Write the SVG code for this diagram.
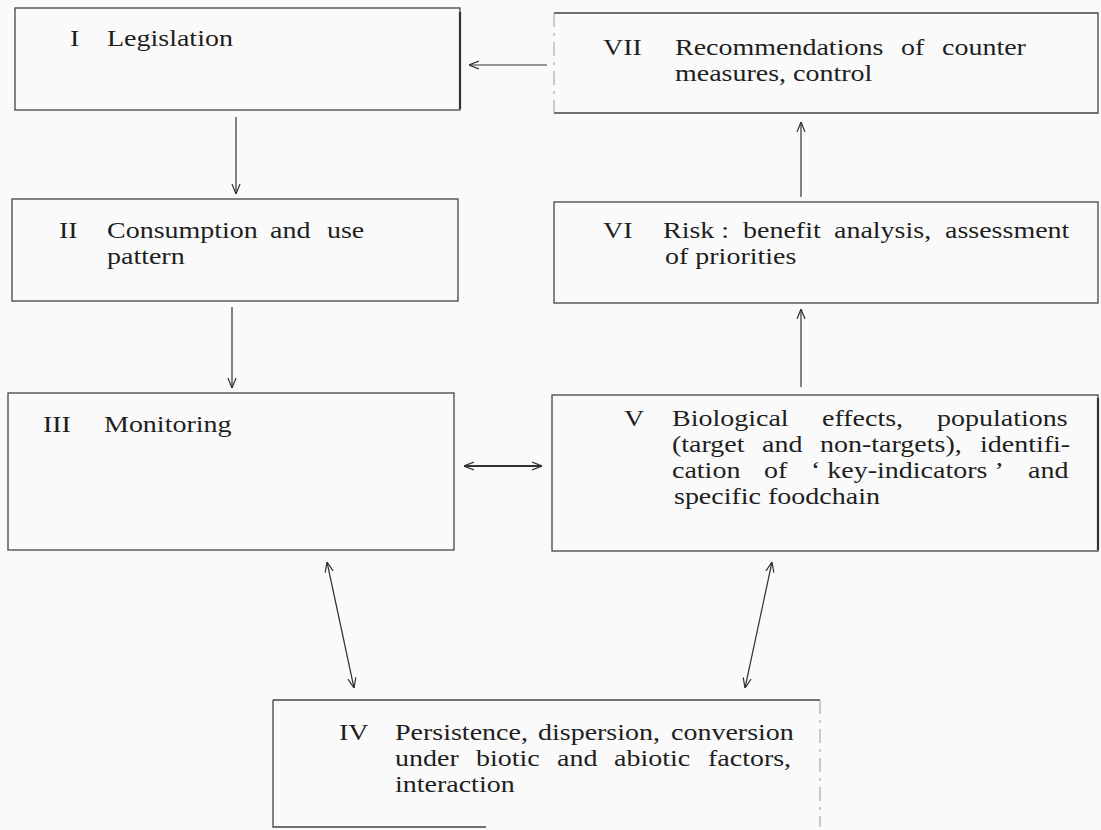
<svg xmlns="http://www.w3.org/2000/svg" width="1101" height="830" viewBox="0 0 1101 830">
<defs>
<style>
.box{fill:none;stroke:#444;stroke-width:1.3}
.faint{fill:none;stroke:#999;stroke-width:1;stroke-dasharray:14 6 3 6}
.thick{stroke:#333;stroke-width:2.2}
.lbl{font-family:"Liberation Serif","Times New Roman",serif;font-size:23px;fill:#1e1e1e}
.con{fill:none;stroke:#333;stroke-width:1.2}
.con2{fill:none;stroke:#333;stroke-width:2}
</style>
<marker id="ah" viewBox="0 0 10 10" refX="10" refY="5" markerWidth="10" markerHeight="10" markerUnits="userSpaceOnUse" orient="auto-start-reverse">
<path d="M0,1 L10,5 L0,9" fill="none" stroke="#333" stroke-width="1.2"/>
</marker>
</defs>
<rect x="0" y="0" width="1101" height="830" fill="#fafafa"/>

<g id="node-I">
<rect class="box" x="15" y="8" width="445" height="102"/>
<line class="thick" x1="460" y1="12" x2="460" y2="109"/>
<text class="lbl" transform="matrix(1.2174 0 0 1 -15.22 0)"><tspan x="70" y="46">I</tspan><tspan x="100.39" y="46">Legislation</tspan></text>
</g>

<g id="node-VII">
<path class="box" d="M554,13 H1098 V113 H554"/>
<line class="faint" x1="554" y1="13" x2="554" y2="113"/>
<text class="lbl" transform="matrix(1.2174 0 0 1 -131.09 0)"><tspan x="603" y="55">VII</tspan><tspan x="662.14" y="55">Recommendations</tspan><tspan x="847.78" y="55">of</tspan><tspan x="881.46" y="55">counter</tspan><tspan x="662.14" y="81">measures, control</tspan></text>
</g>

<g id="node-II">
<rect class="box" x="12" y="199" width="446" height="102"/>
<text class="lbl" transform="matrix(1.2174 0 0 1 -12.83 0)"><tspan x="59" y="238">II</tspan><tspan x="98.43" y="238">Consumption</tspan><tspan x="232.32" y="238">and</tspan><tspan x="279.14" y="238">use</tspan><tspan x="98.43" y="264">pattern</tspan></text>
</g>

<g id="node-VI">
<rect class="box" x="554" y="202" width="544" height="101"/>
<text class="lbl" transform="matrix(1.2174 0 0 1 -131.09 0)"><tspan x="603" y="238">VI</tspan><tspan x="652.29" y="238">Risk :</tspan><tspan x="718" y="238">benefit</tspan><tspan x="792.75" y="238">analysis,</tspan><tspan x="883.93" y="238">assessment</tspan><tspan x="653.93" y="264">of priorities</tspan></text>
</g>

<g id="node-III">
<rect class="box" x="8" y="393" width="446" height="157"/>
<text class="lbl" transform="matrix(1.2174 0 0 1 -9.35 0)"><tspan x="43" y="432">III</tspan><tspan x="93.11" y="432">Monitoring</tspan></text>
</g>

<g id="node-V">
<rect class="box" x="552" y="395" width="546" height="156"/>
<line class="thick" x1="1098" y1="398" x2="1098" y2="550"/>
<text class="lbl" transform="matrix(1.2174 0 0 1 -135.66 0)"><tspan x="624" y="426">V</tspan><tspan x="663.43" y="426">Biological</tspan><tspan x="786.64" y="426">effects,</tspan><tspan x="881.11" y="426">populations</tspan><tspan x="663.43" y="452">(target</tspan><tspan x="737.36" y="452">and</tspan><tspan x="785" y="452">non-targets),</tspan><tspan x="916.43" y="452">identifi-</tspan><tspan x="663.43" y="478">cation</tspan><tspan x="739" y="478">of</tspan><tspan x="777.61" y="478">‘ key-indicators ’</tspan><tspan x="955.86" y="478">and</tspan><tspan x="665.07" y="504">specific foodchain</tspan></text>
</g>

<g id="node-IV">
<path class="box" d="M273,700 H820 M273,700 V827 H486"/>
<line class="faint" x1="820" y1="700" x2="820" y2="827"/>
<text class="lbl" transform="matrix(1.2174 0 0 1 -73.70 0)"><tspan x="339" y="740">IV</tspan><tspan x="385" y="740">Persistence,</tspan><tspan x="502.46" y="740">dispersion,</tspan><tspan x="611.72" y="740">conversion</tspan><tspan x="385" y="766">under</tspan><tspan x="451.54" y="766">biotic</tspan><tspan x="518.07" y="766">and</tspan><tspan x="564.89" y="766">abiotic</tspan><tspan x="642.1" y="766">factors,</tspan><tspan x="385" y="792">interaction</tspan></text>
</g>

<g id="connectors">
<line class="con" x1="547" y1="65" x2="469" y2="65" marker-end="url(#ah)"/>
<line class="con" x1="236" y1="117" x2="236" y2="194" marker-end="url(#ah)"/>
<line class="con" x1="232" y1="307" x2="232" y2="388" marker-end="url(#ah)"/>
<line class="con" x1="801" y1="387" x2="801" y2="309" marker-end="url(#ah)"/>
<line class="con" x1="801" y1="197" x2="801" y2="122" marker-end="url(#ah)"/>
<line class="con2" x1="464" y1="466" x2="542" y2="466" marker-start="url(#ah)" marker-end="url(#ah)"/>
<line class="con" x1="327" y1="562" x2="354" y2="688" marker-start="url(#ah)" marker-end="url(#ah)"/>
<line class="con" x1="772" y1="562" x2="745" y2="688" marker-start="url(#ah)" marker-end="url(#ah)"/>
</g>
</svg>
